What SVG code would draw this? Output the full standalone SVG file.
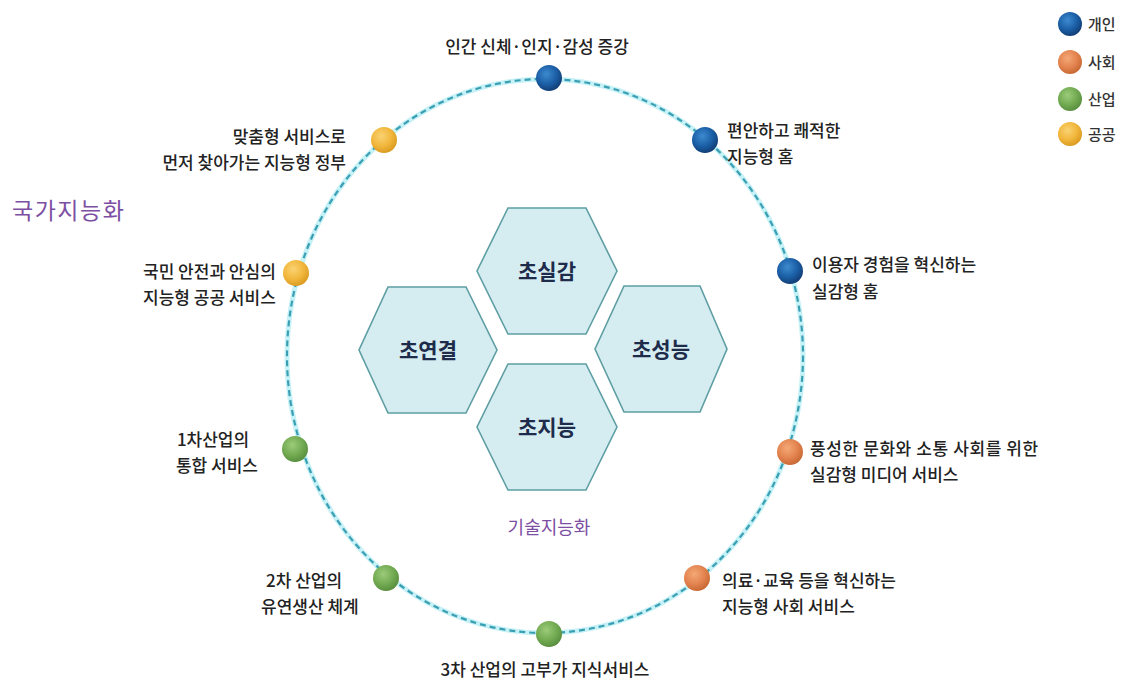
<svg xmlns="http://www.w3.org/2000/svg" width="1122" height="686" viewBox="0 0 1122 686">
<defs>
<radialGradient id="gBlue" cx="40%" cy="35%" r="65%"><stop offset="0" stop-color="#3d8ad0"/><stop offset="0.6" stop-color="#1b5fa6"/><stop offset="1" stop-color="#123f78"/></radialGradient>
<radialGradient id="gOrange" cx="40%" cy="35%" r="65%"><stop offset="0" stop-color="#f4a876"/><stop offset="0.6" stop-color="#e38450"/><stop offset="1" stop-color="#c96a35"/></radialGradient>
<radialGradient id="gGreen" cx="40%" cy="35%" r="65%"><stop offset="0" stop-color="#9ccb7a"/><stop offset="0.6" stop-color="#73ab52"/><stop offset="1" stop-color="#5a9040"/></radialGradient>
<radialGradient id="gYellow" cx="40%" cy="35%" r="65%"><stop offset="0" stop-color="#fad273"/><stop offset="0.6" stop-color="#f1b73c"/><stop offset="1" stop-color="#dc9c22"/></radialGradient>
<style>
.lbl{font-family:"Noto Sans CJK KR","Noto Sans",sans-serif;font-size:17px;font-weight:500;fill:#222}
.leg{font-family:"Noto Sans CJK KR","Noto Sans",sans-serif;font-size:15px;font-weight:500;fill:#333}
.hex{fill:#d5edf1;stroke:#5e9ea3;stroke-width:1.6}
.hext{font-family:"Noto Sans CJK KR","Noto Sans",sans-serif;font-size:21px;font-weight:bold;fill:#1e2b4a;text-anchor:middle}
.purple{font-family:"Noto Sans CJK KR","Noto Sans",sans-serif;fill:#7c4fa3}
.ring{fill:none;stroke:#3a9fb3;stroke-width:2.2;stroke-dasharray:6 4}
.glow{fill:none;stroke:#c6f1f6;stroke-width:5}
</style>
</defs>
<rect width="1122" height="686" fill="#ffffff"/>

<g id="connectors">
<ellipse class="glow" cx="545" cy="356" rx="258" ry="277"/>
<ellipse class="ring" cx="545" cy="356" rx="258" ry="277"/>
</g>

<g id="hex-silgam"><polygon class="hex" points="508,208 586,208 617,271 586,334 508,334 477,271"/><text class="hext" x="547" y="279">초실감</text></g>
<g id="hex-yeongyeol"><polygon class="hex" points="388,287 466,287 497,350 466,413 388,413 359,350"/><text class="hext" x="428" y="358">초연결</text></g>
<g id="hex-seongneung"><polygon class="hex" points="624,286 700,286 727,349 700,412 624,412 595,349"/><text class="hext" x="661" y="357">초성능</text></g>
<g id="hex-jineung"><polygon class="hex" points="508,364 586,364 617,427 586,490 508,490 477,427"/><text class="hext" x="547" y="435">초지능</text></g>

<g id="label-national"><text class="purple" x="12" y="219" font-size="23" letter-spacing="1.5">국가지능화</text></g>
<g id="label-tech"><text class="purple" x="549" y="534" font-size="18" text-anchor="middle">기술지능화</text></g>

<g id="n1"><circle cx="549" cy="78" r="13" fill="url(#gBlue)"/><text class="lbl" x="537" y="53" text-anchor="middle">인간 신체·인지·감성 증강</text></g>
<g id="n2"><circle cx="705" cy="140" r="13" fill="url(#gBlue)"/><text class="lbl" x="727" y="137">편안하고 쾌적한</text><text class="lbl" x="727" y="163">지능형 홈</text></g>
<g id="n3"><circle cx="790" cy="271" r="13" fill="url(#gBlue)"/><text class="lbl" x="812" y="271">이용자 경험을 혁신하는</text><text class="lbl" x="812" y="298">실감형 홈</text></g>
<g id="n4"><circle cx="790" cy="452" r="13" fill="url(#gOrange)"/><text class="lbl" x="810" y="455" letter-spacing="0.6">풍성한 문화와 소통 사회를 위한</text><text class="lbl" x="810" y="481">실감형 미디어 서비스</text></g>
<g id="n5"><circle cx="697" cy="578" r="13" fill="url(#gOrange)"/><text class="lbl" x="722" y="587">의료·교육 등을 혁신하는</text><text class="lbl" x="722" y="613">지능형 사회 서비스</text></g>
<g id="n6"><circle cx="549" cy="634" r="13" fill="url(#gGreen)"/><text class="lbl" x="545" y="676" text-anchor="middle">3차 산업의 고부가 지식서비스</text></g>
<g id="n7"><circle cx="386" cy="578" r="13" fill="url(#gGreen)"/><text class="lbl" x="266" y="587">2차 산업의</text><text class="lbl" x="261" y="613">유연생산 체계</text></g>
<g id="n8"><circle cx="295" cy="449" r="13" fill="url(#gGreen)"/><text class="lbl" x="213" y="446" text-anchor="middle">1차산업의</text><text class="lbl" x="217" y="472" text-anchor="middle">통합 서비스</text></g>
<g id="n9"><circle cx="296" cy="273" r="13" fill="url(#gYellow)"/><text class="lbl" x="143" y="278">국민 안전과 안심의</text><text class="lbl" x="143" y="304">지능형 공공 서비스</text></g>
<g id="n10"><circle cx="384" cy="140" r="13" fill="url(#gYellow)"/><text class="lbl" x="346" y="143" text-anchor="end">맞춤형 서비스로</text><text class="lbl" x="346" y="169" text-anchor="end">먼저 찾아가는 지능형 정부</text></g>

<g id="legend">
<circle cx="1070" cy="24" r="12" fill="url(#gBlue)"/><text class="leg" x="1088" y="30">개인</text>
<circle cx="1070" cy="62" r="12" fill="url(#gOrange)"/><text class="leg" x="1088" y="68">사회</text>
<circle cx="1070" cy="99" r="12" fill="url(#gGreen)"/><text class="leg" x="1088" y="105">산업</text>
<circle cx="1070" cy="134" r="12" fill="url(#gYellow)"/><text class="leg" x="1088" y="140">공공</text>
</g>
</svg>
